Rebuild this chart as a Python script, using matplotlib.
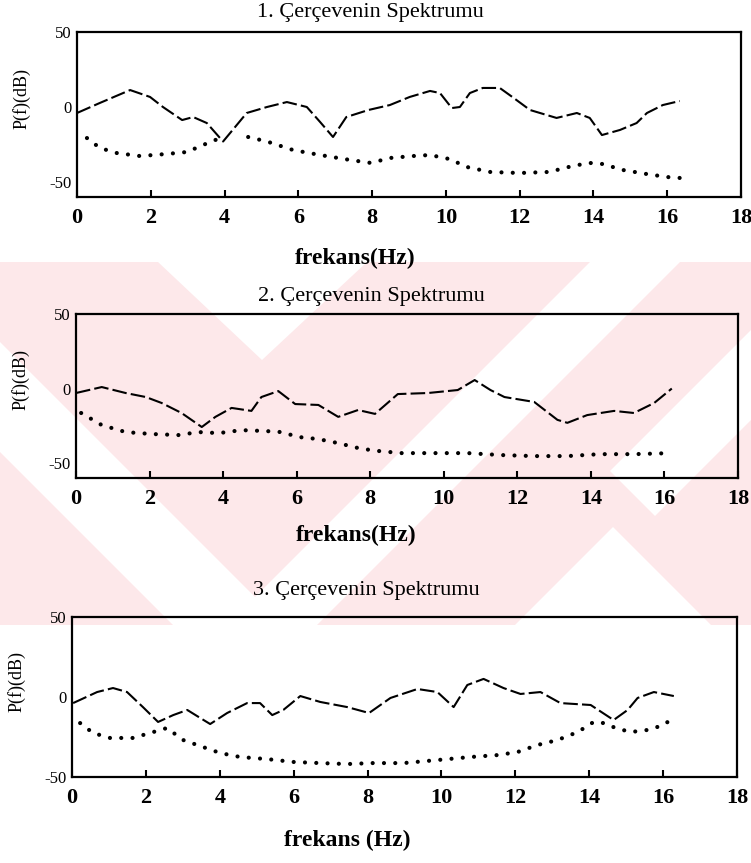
import matplotlib
matplotlib.use("Agg")
import matplotlib.pyplot as plt
from matplotlib.patches import Polygon
import numpy as np

plt.rcParams["axes.unicode_minus"] = False

# ---- data (frequency in Hz, power in dB) ----
titles = ["1. Çerçevenin Spektrumu", "2. Çerçevenin Spektrumu", "3. Çerçevenin Spektrumu"]
xlabels = ["frekans(Hz)", "frekans(Hz)", "frekans (Hz)"]
ylabel = "P(f)(dB)"
xticks = [0, 2, 4, 6, 8, 10, 12, 14, 16, 18]
yticks = [-50, 0, 50]

# frame 1
f1_dash_x = [0.0, 0.62, 1.44, 1.98, 2.33, 2.85, 3.15, 3.52, 3.96, 4.23, 4.6, 5.15, 5.69,
             6.23, 6.59, 6.94, 7.3, 7.9, 8.48, 9.02, 9.57, 9.84, 10.16, 10.38, 10.65,
             11.0, 11.46, 11.8, 12.28, 13.0, 13.55, 13.9, 14.23, 14.72, 15.17, 15.45,
             15.88, 16.34]
f1_dash_y = [-4, 2.7, 11.3, 6.7, 0, -8.7, -6.7, -10.7, -23, -15, -4, 0, 3.3,
             0, -10, -20, -6.7, -2, 1.3, 6.7, 10.7, 9.3, -0.7, 0, 9.3,
             12.7, 12.7, 6.7, -2, -7.3, -4, -7.3, -18.7, -15.3, -10.7, -4,
             1.3, 4]
f1_dot_x = [0.27, 0.62, 1.08, 1.71, 2.44, 2.98, 3.42, 3.88, 4.3, 4.64, 5.15, 5.86, 6.59,
            7.4, 7.97, 8.48, 9.1, 9.57, 10.1, 10.57, 11.19, 12.0, 12.8, 13.44, 13.9,
            14.25, 14.8, 15.45, 16.0, 16.34]
f1_dot_y = [-20.7, -27.3, -30.7, -32.7, -31.3, -30, -25.3, -20.7, np.nan, -20, -23, -28.7, -32,
            -35.3, -37.3, -34, -32.7, -32, -34.7, -40, -43.3, -44, -43.3, -39.3, -37.3,
            -38, -42, -44.7, -46.7, -47.3]

# frame 2
f2_dash_x = [0.0, 0.7, 1.35, 1.9, 2.33, 2.87, 3.42, 3.79, 4.23, 4.77, 5.04, 5.5, 5.96,
             6.59, 7.13, 7.67, 8.13, 8.75, 9.57, 10.38, 10.84, 11.27, 11.65, 12.46,
             13.09, 13.36, 13.9, 14.63, 15.17, 15.72, 16.2]
f2_dash_y = [-3, 1, -3, -5.7, -9.7, -16.4, -25.8, -19, -13, -15, -5.7, -1.7, -10.4,
             -11, -19, -14.4, -17, -3.7, -3, -1, 5.7, -1, -5.7, -9,
             -21, -23, -17.8, -15, -16.4, -9.7, 0]
f2_dot_x = [0.14, 0.7, 1.35, 2.06, 2.79, 3.33, 3.88, 4.5, 5.15, 5.58, 6.05, 6.59, 7.13,
            7.67, 8.1, 8.84, 9.76, 10.65, 11.54, 12.46, 13.36, 14.25, 15.17, 16.2]
f2_dot_y = [-16.4, -24.5, -29.2, -30.5, -31.2, -29.2, -29.9, -27.9, -28.5, -29.2, -32.5,
            -33.9, -36.6, -39.9, -41.6, -43.3, -43.3, -43.3, -44.6, -45.3, -45.3, -44,
            -44, -43.3]

# frame 3
f3_dash_x = [0.03, 0.68, 1.11, 1.49, 1.92, 2.33, 2.74, 3.12, 3.47, 3.74, 4.2, 4.74, 5.09,
             5.42, 5.72, 6.18, 6.72, 7.45, 8.04, 8.62, 9.35, 9.89, 10.33, 10.7, 11.14,
             11.68, 12.14, 12.68, 13.22, 14.04, 14.66, 15.04, 15.31, 15.75, 16.29]
f3_dash_y = [-3.8, 3.1, 5.6, 3.1, -6.3, -15.6, -11.3, -8.1, -13.1, -16.9, -10, -3.8, -3.8,
             -11.3, -8.1, 0.6, -3.1, -6.3, -10, -0.6, 5, 3.1, -6.3, 7.5, 11.3,
             5.6, 1.9, 3.1, -3.8, -5, -14.4, -8.1, -0.6, 3.1, 0.6]
f3_dot_x = [0.22, 0.57, 1.03, 1.65, 2.11, 2.57, 3.01, 3.55, 4.01, 4.55, 5.28, 5.99, 6.72,
            7.45, 8.12, 8.97, 9.89, 10.79, 11.52, 12.06, 12.6, 13.14, 13.69, 14.12,
            14.39, 14.72, 15.12, 15.58, 16.02, 16.29]
f3_dot_y = [-16.3, -22.5, -25.6, -25.6, -22.5, -19.4, -26.9, -31.3, -35, -37.5, -38.8,
            -40.6, -41.3, -41.9, -41.3, -41.3, -39.4, -37.5, -36.3, -34.4, -30, -26.9,
            -21.9, -15.6, -16.3, -19.4, -21.9, -20.6, -17.5, -12.5]

frames = [
    (f1_dash_x, f1_dash_y, f1_dot_x, f1_dot_y, (-60, 50)),
    (f2_dash_x, f2_dash_y, f2_dot_x, f2_dot_y, (-60, 50)),
    (f3_dash_x, f3_dash_y, f3_dot_x, f3_dot_y, (-50, 50)),
]

W, H = 751, 863
fig = plt.figure(figsize=(W / 100, H / 100), dpi=100, facecolor="white")


def px(x, y):
    """pixel (y down) -> figure fraction"""
    return (x / W, 1 - y / H)


# faint pink watermark band behind the middle of the page
PINK = "#fde8ea"
band = Polygon([px(0, 262), px(W, 262), px(W, 625), px(0, 625)],
               closed=True, transform=fig.transFigure, fc=PINK, ec="none", zorder=-10)
fig.patches.append(band)
white_shapes = [
    [(158, 262), (367, 262), (262, 360)],                       # top V
    [(-190, 262), (-80, 262), (283, 625), (173, 625)],          # left "\" stripe
    [(590, 262), (680, 262), (317, 625), (227, 625)],           # "/" stripe
    [(613, 527), (515, 625), (711, 625)],                       # bottom right peak
    [(751, 330), (751, 420), (655, 516), (610, 471)],           # right "/" stripe
]
for shp in white_shapes:
    poly = Polygon([px(a, b) for a, b in shp], closed=True, transform=fig.transFigure,
                   fc="white", ec="none", zorder=-9)
    fig.patches.append(poly)

# axes boxes in pixels: left, top, right, bottom
boxes = [(77, 32, 741, 197), (76, 314, 738, 478), (72, 617, 737, 777)]
title_y = [12, 297, 590]
title_x = [370, 371, 366]
xlab_y = [258, 535, 840]
xlab_x = [355, 356, 347]

serif = "Liberation Serif"

for i, (dx, dy, ox, oy, ylim) in enumerate(frames):
    l, t, r, b = boxes[i]
    ax = fig.add_axes([l / W, 1 - b / H, (r - l) / W, (b - t) / H])
    ax.set_facecolor("none")
    ax.plot(dx, dy, color="black", lw=1.5, linestyle=(0, (7, 2)))
    ax.plot(ox, oy, color="black", lw=3.0, linestyle=(0, (0.01, 2.7)),
            dash_capstyle="round")
    ax.set_xlim(0, 18)
    ax.set_ylim(*ylim)
    ax.set_xticks(xticks)
    ax.set_yticks(yticks)
    ax.tick_params(axis="x", direction="in", length=5, width=1.5, pad=8,
                   labelsize=16, top=False)
    ax.tick_params(axis="y", direction="in", length=0, pad=4, labelsize=12)
    for lab in ax.get_xticklabels():
        lab.set_fontfamily(serif)
        lab.set_fontweight("bold")
    for lab in ax.get_yticklabels():
        lab.set_fontfamily(serif)
    for sp in ax.spines.values():
        sp.set_linewidth(1.6)
    ax.text((title_x[i] - l) / (r - l), 1 + (t - title_y[i]) / (b - t), titles[i],
            transform=ax.transAxes, ha="center", va="center",
            fontsize=16, fontfamily=serif)
    ax.set_xlabel(xlabels[i], fontsize=17, fontfamily=serif, fontweight="bold")
    ax.xaxis.set_label_coords((xlab_x[i] - l) / (r - l), -(xlab_y[i] - b) / (b - t))
    ax.xaxis.label.set_va("center")
    ax.set_ylabel(ylabel, fontsize=13, fontfamily=serif)
    ax.yaxis.set_label_coords(-55 / (r - l), 0.6)
    ax.yaxis.label.set_va("center")

fig.savefig("out.png", dpi=100)
